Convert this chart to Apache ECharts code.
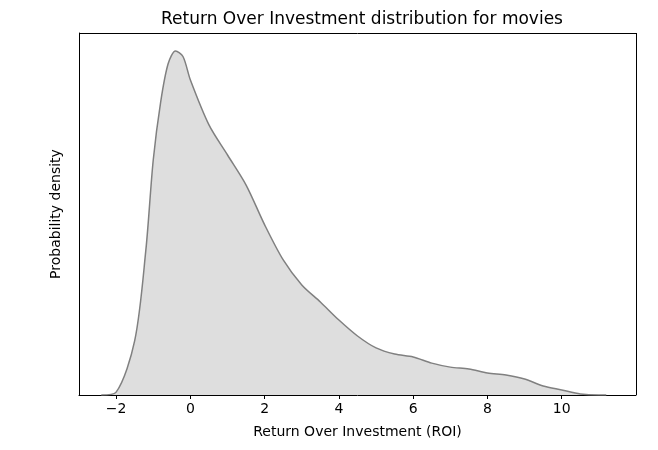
<!DOCTYPE html>
<html><head><meta charset="utf-8">
<script src="https://cdn.jsdelivr.net/npm/echarts@6/dist/echarts.min.js"></script>
<style>html,body{margin:0;padding:0;background:#fff}#c{width:658px;height:450px}</style>
</head><body><div id="c"></div>
<script>
const roi = [-2.4,-2,-1.5,-1.2,-1,-0.8,-0.6,-0.4,-0.2,0,0.5,1,1.5,2,2.5,3,3.5,4,4.5,5,5.5,6,6.5,7,7.5,8,8.5,9,9.5,10,10.5,11,11.2];
const density = [0,0.008,0.15,0.4,0.65,0.81,0.915,0.95,0.935,0.87,0.746,0.663,0.58,0.47,0.373,0.304,0.257,0.207,0.163,0.13,0.113,0.105,0.088,0.077,0.072,0.061,0.055,0.044,0.025,0.014,0.003,0,0];
const xTicks = [-2,0,2,4,6,8,10];
const font = 'DejaVu Sans';
const chart = echarts.init(document.getElementById('c'));
chart.setOption({
  animation:false,
  title:{text:'Return Over Investment distribution for movies',left:357,top:6,textAlign:'center',
    textStyle:{fontFamily:font,fontSize:17,fontWeight:'normal',color:'#000'}},
  grid:{left:79,right:22,top:33,bottom:55},
  xAxis:{type:'value',min:-3,max:12,interval:1,
    name:'Return Over Investment (ROI)',nameLocation:'middle',nameGap:30,
    nameTextStyle:{fontFamily:font,fontSize:14,color:'#000'},
    axisLine:{show:true,onZero:false,lineStyle:{color:'#000'}},
    axisTick:{show:true,lineStyle:{color:'#000'},length:4,customValues:xTicks},
    axisLabel:{fontFamily:font,fontSize:14,color:'#000',customValues:xTicks,margin:7,
      formatter:v=>v<0?'\u2212'+Math.abs(v):String(v)},
    splitLine:{show:false}},
  yAxis:{type:'value',min:0,max:1,
    name:'Probability density',nameLocation:'middle',nameGap:16,
    nameTextStyle:{fontFamily:font,fontSize:14,color:'#000'},
    axisLine:{show:true,onZero:false,lineStyle:{color:'#000'}},
    axisTick:{show:false},axisLabel:{show:false},splitLine:{show:false}},
  series:[{type:'line',data:roi.map((x,i)=>[x,density[i]]),smooth:0.3,symbol:'none',
    lineStyle:{color:'#808080',width:1.5},areaStyle:{color:'#dedede',opacity:1}},
    {type:'line',data:[],markLine:{silent:true,symbol:'none',label:{show:false},
      lineStyle:{color:'#000',type:'solid',width:1},data:[[{coord:[-3,1]},{coord:[12,1]}],[{coord:[12,0]},{coord:[12,1]}]]}}]
});
</script></body></html>
